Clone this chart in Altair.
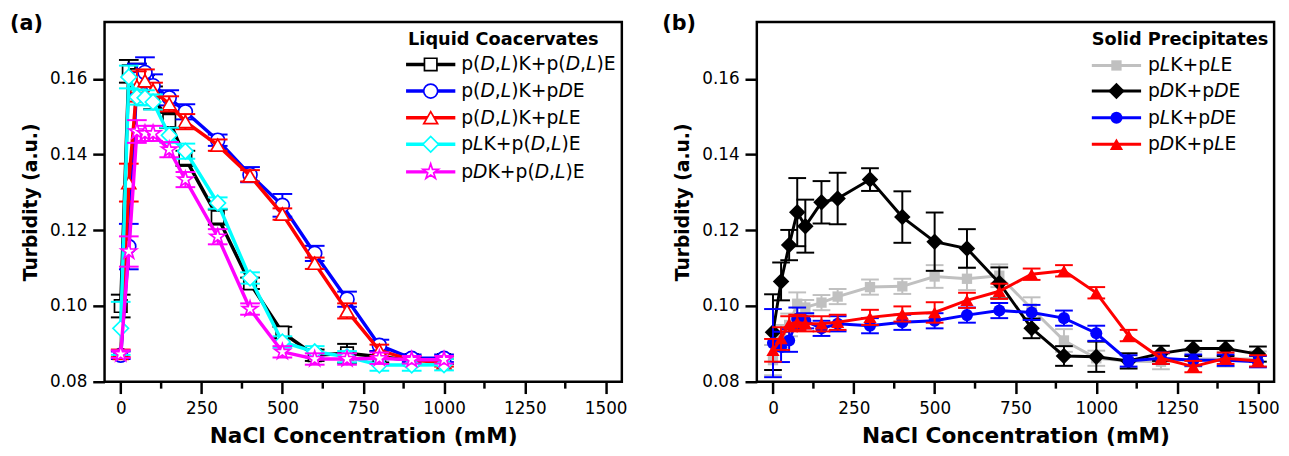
import altair as alt
import pandas as pd

FONT = "DejaVu Sans"

# ---------------- data ----------------
# (a) Liquid coacervates
x_liq = [0, 25, 50, 75, 100, 150, 200, 300, 400, 500, 600, 700, 800, 900, 1000]
liq_dl_dl = [0.100, 0.162, 0.161, 0.158, 0.155, 0.149, 0.139, 0.1235, 0.106, 0.093, 0.087, 0.0875, 0.0866, 0.0857, 0.0857]
liq_dl_dl_err = [0.003, 0.003, 0.003, 0.003, 0.003, 0.002, 0.002, 0.002, 0.0015, 0.0015, 0.0015, 0.0025, 0.0015, 0.001, 0.001]
liq_dl_d = [0.087, 0.1157, 0.160, 0.1617, 0.1582, 0.155, 0.1513, 0.1438, 0.1347, 0.1266, 0.1139, 0.1018, 0.0896, 0.0862, 0.0862]
liq_dl_d_err = [0.001, 0.006, 0.004, 0.004, 0.003, 0.002, 0.002, 0.0015, 0.002, 0.003, 0.002, 0.002, 0.0015, 0.001, 0.001]
liq_dl_l = [0.0875, 0.1326, 0.158, 0.1595, 0.157, 0.1534, 0.1487, 0.1425, 0.1344, 0.1243, 0.1113, 0.0987, 0.0883, 0.0857, 0.085]
liq_dl_l_err = [0.001, 0.005, 0.004, 0.003, 0.002, 0.002, 0.002, 0.0015, 0.0015, 0.0015, 0.0015, 0.002, 0.0015, 0.001, 0.001]
liq_l_dl = [0.0941, 0.1605, 0.1552, 0.155, 0.1539, 0.1451, 0.1409, 0.1272, 0.1074, 0.0905, 0.0879, 0.0866, 0.0844, 0.0844, 0.0845]
liq_l_dl_err = [0.007, 0.003, 0.002, 0.002, 0.002, 0.002, 0.002, 0.0015, 0.0015, 0.0015, 0.0015, 0.0015, 0.0015, 0.0015, 0.0015]
liq_d_dl = [0.0873, 0.1144, 0.1461, 0.1456, 0.1456, 0.1413, 0.1334, 0.1183, 0.0992, 0.0879, 0.086, 0.086, 0.0862, 0.0858, 0.0858]
liq_d_dl_err = [0.001, 0.004, 0.003, 0.002, 0.002, 0.002, 0.002, 0.002, 0.0015, 0.0015, 0.0015, 0.0015, 0.0015, 0.001, 0.001]

# (b) Solid precipitates
x_sol = [0, 25, 50, 75, 100, 150, 200, 300, 400, 500, 600, 700, 800, 900, 1000, 1100, 1200, 1300, 1400, 1500]
sol_l_l = [0.0857, 0.092, 0.095, 0.1006, 0.0996, 0.1009, 0.1025, 0.105, 0.1052, 0.1078, 0.1072, 0.108, 0.0993, 0.0909, 0.0862, 0.0855, 0.0853, 0.086, 0.086, 0.086]
sol_l_l_err = [0.004, 0.003, 0.003, 0.003, 0.002, 0.002, 0.002, 0.002, 0.002, 0.003, 0.003, 0.003, 0.003, 0.003, 0.002, 0.002, 0.002, 0.002, 0.002, 0.002]
sol_d_d = [0.0931, 0.1065, 0.1161, 0.1248, 0.1211, 0.1274, 0.1284, 0.1334, 0.1235, 0.117, 0.1152, 0.1061, 0.0941, 0.0868, 0.0866, 0.0855, 0.0875, 0.0888, 0.0888, 0.0873]
sol_d_d_err = [0.010, 0.005, 0.004, 0.009, 0.007, 0.0056, 0.0068, 0.003, 0.0068, 0.0077, 0.0051, 0.0041, 0.0026, 0.0026, 0.004, 0.002, 0.002, 0.002, 0.002, 0.002]
sol_l_d = [0.0902, 0.0892, 0.0909, 0.0966, 0.0961, 0.0941, 0.0953, 0.0948, 0.0957, 0.0961, 0.0976, 0.0988, 0.0983, 0.0968, 0.0928, 0.0855, 0.0862, 0.0857, 0.0857, 0.0853]
sol_l_d_err = [0.009, 0.004, 0.003, 0.003, 0.002, 0.002, 0.002, 0.002, 0.002, 0.002, 0.002, 0.002, 0.002, 0.002, 0.002, 0.0015, 0.0015, 0.0015, 0.0015, 0.0015]
sol_d_l = [0.0883, 0.0914, 0.0953, 0.0957, 0.0953, 0.0953, 0.0957, 0.097, 0.0979, 0.0983, 0.1015, 0.1039, 0.1084, 0.1093, 0.1035, 0.0922, 0.0862, 0.084, 0.0862, 0.0855]
sol_d_l_err = [0.003, 0.003, 0.002, 0.002, 0.002, 0.002, 0.002, 0.002, 0.002, 0.0027, 0.002, 0.002, 0.0015, 0.0015, 0.0015, 0.0015, 0.0015, 0.0015, 0.0015, 0.0015]

x_ticks = [0, 250, 500, 750, 1000, 1250, 1500]
x_minor = [125, 375, 625, 875, 1125, 1375]
y_ticks = [0.08, 0.10, 0.12, 0.14, 0.16]

liq_labels = ["p(<i>D</i>,<i>L</i>)K+p(<i>D</i>,<i>L</i>)E", "p(<i>D</i>,<i>L</i>)K+p<i>D</i>E",
              "p(<i>D</i>,<i>L</i>)K+p<i>L</i>E", "p<i>L</i>K+p(<i>D</i>,<i>L</i>)E",
              "p<i>D</i>K+p(<i>D</i>,<i>L</i>)E"]
sol_labels = ["p<i>L</i>K+p<i>L</i>E", "p<i>D</i>K+p<i>D</i>E", "p<i>L</i>K+p<i>D</i>E", "p<i>D</i>K+p<i>L</i>E"]

# ---------------- layout / style ----------------
W, H = 525, 365
XDOM = [-50, 1550]
YDOM = [0.08, 0.175]
STAR = ("M0,-1L0.2245,-0.309L0.9511,-0.309L0.3633,0.118L0.5878,0.809L0,0.382"
        "L-0.5878,0.809L-0.3633,0.118L-0.9511,-0.309L-0.2245,-0.309Z")
LEG_FS = 19
ADV = {'p': 0.635, '(': 0.390, ')': 0.390, 'D': 0.770, 'L': 0.557, 'K': 0.656,
       'E': 0.632, '+': 0.838, ',': 0.318}

xscale = alt.Scale(domain=XDOM, nice=False, zero=False)
yscale = alt.Scale(domain=YDOM, nice=False, zero=False)
xaxis = alt.Axis(values=x_ticks, format="d", title="NaCl Concentration (mM)", labelFlush=False, labelOverlap=False)
yaxis = alt.Axis(values=y_ticks, format=".2f", title="Turbidity (a.u.)", labelFlush=False, labelOverlap=False)


def X(f):
    return alt.X(f"{f}:Q", scale=xscale, axis=xaxis)


def Y(f):
    return alt.Y(f"{f}:Q", scale=yscale, axis=yaxis)


def px2x(px):
    return XDOM[0] + px / W * (XDOM[1] - XDOM[0])


def py2y(py):
    return YDOM[1] - py / H * (YDOM[1] - YDOM[0])


def series(xs, ys, es, color, shape, size, hollow, lw, cap):
    df = pd.DataFrame({"x": xs, "y": ys,
                       "lo": [a - b for a, b in zip(ys, es)],
                       "hi": [a + b for a, b in zip(ys, es)]})
    b = alt.Chart(df)
    out = [
        b.mark_rule(color=color, strokeWidth=2).encode(x=X("x"), y=Y("lo"), y2="hi"),
        b.mark_tick(orient="horizontal", size=cap, thickness=2, color=color, opacity=1).encode(x=X("x"), y=Y("lo")),
        b.mark_tick(orient="horizontal", size=cap, thickness=2, color=color, opacity=1).encode(x=X("x"), y=Y("hi")),
        b.mark_line(color=color, strokeWidth=lw).encode(x=X("x"), y=Y("y")),
    ]
    if hollow:
        out.append(b.mark_point(shape=shape, size=size, filled=True, fill="white", stroke=color,
                                strokeWidth=1.7, opacity=1).encode(x=X("x"), y=Y("y")))
    else:
        out.append(b.mark_point(shape=shape, size=size, filled=True, color=color,
                                opacity=1, strokeWidth=0).encode(x=X("x"), y=Y("y")))
    return out


def parse(markup):
    segs = []
    s = markup
    while s:
        if s.startswith("<i>"):
            e = s.index("</i>")
            segs.append((s[3:e], True))
            s = s[e + 4:]
        else:
            e = s.find("<i>")
            e = len(s) if e < 0 else e
            segs.append((s[:e], False))
            s = s[e:]
    return segs


def legend(title, labels, styles, line_x, text_x, title_x, title_y, rows_y, hollow, lw):
    layers = []
    tdf = pd.DataFrame({"x": [px2x(title_x)], "y": [py2y(title_y)], "t": [title]})
    layers.append(alt.Chart(tdf).mark_text(align="left", baseline="middle", font=FONT, fontSize=18,
                                           fontWeight="bold", color="black")
                  .encode(x=X("x"), y=Y("y"), text="t:N"))
    rows = []
    for lab, ry in zip(labels, rows_y):
        off = 0.0
        for txt, it in parse(lab):
            rows.append({"x": px2x(text_x + off), "y": py2y(ry), "t": txt, "it": it})
            off += sum(ADV.get(c, 0.6) for c in txt) * LEG_FS
    sdf = pd.DataFrame(rows)
    for it in (False, True):
        layers.append(alt.Chart(sdf[sdf["it"] == it]).mark_text(
            align="left", baseline="middle", font=FONT, fontSize=LEG_FS,
            fontStyle="italic" if it else "normal", color="black")
            .encode(x=X("x"), y=Y("y"), text="t:N"))
    for (color, shape, size), ry in zip(styles, rows_y):
        d = pd.DataFrame({"x": [px2x(line_x)], "x2": [px2x(line_x + 50)],
                          "xm": [px2x(line_x + 25)], "y": [py2y(ry)]})
        b = alt.Chart(d)
        layers.append(b.mark_rule(color=color, strokeWidth=lw).encode(x=X("x"), x2="x2", y=Y("y")))
        if hollow:
            layers.append(b.mark_point(shape=shape, size=size, filled=True, fill="white", stroke=color,
                                       strokeWidth=1.7, opacity=1).encode(x=X("xm"), y=Y("y")))
        else:
            layers.append(b.mark_point(shape=shape, size=size, filled=True, color=color, opacity=1,
                                       strokeWidth=0).encode(x=X("xm"), y=Y("y")))
    return layers


def frame_extras(letter):
    minor = alt.Chart(pd.DataFrame({"m": x_minor})).mark_rule(color="black", strokeWidth=2.5).encode(
        x=X("m"), y=alt.value(H), y2=alt.value(H + 7))
    lab = alt.Chart(pd.DataFrame({"t": [letter]})).mark_text(
        align="left", baseline="top", font=FONT, fontSize=21, fontWeight="bold", color="black").encode(
        x=alt.value(-96), y=alt.value(-9), text="t:N")
    return [minor, lab]


# ---------------- panel (a) ----------------
liq_styles = [("#000000", "square", 160), ("#0000FF", "circle", 200), ("#FF0000", "triangle-up", 200),
              ("#00FFFF", "diamond", 250), ("#FF00FF", STAR, 270)]
liq_data = [(liq_dl_dl, liq_dl_dl_err), (liq_dl_d, liq_dl_d_err), (liq_dl_l, liq_dl_l_err),
            (liq_l_dl, liq_l_dl_err), (liq_d_dl, liq_d_dl_err)]
layers_a = []
for (ys, es), (c, sh, sz) in zip(liq_data, liq_styles):
    layers_a += series(x_liq, ys, es, c, sh, sz, True, 3.5, 20)
layers_a += legend("Liquid Coacervates", liq_labels, liq_styles, 306, 362, 308, 18,
                   [43, 70, 97, 124, 152], True, 3.5)
layers_a += frame_extras("(a)")
panel_a = alt.layer(*layers_a).properties(width=W, height=H)

# ---------------- panel (b) ----------------
sol_styles = [("#C0C0C0", "square", 110), ("#000000", "diamond", 280), ("#0000FF", "circle", 150),
              ("#FF0000", "triangle-up", 180)]
sol_data = [(sol_l_l, sol_l_l_err), (sol_d_d, sol_d_d_err), (sol_l_d, sol_l_d_err), (sol_d_l, sol_d_l_err)]
layers_b = []
for (ys, es), (c, sh, sz) in zip(sol_data, sol_styles):
    layers_b += series(x_sol, ys, es, c, sh, sz, False, 3, 18)
layers_b += legend("Solid Precipitates", sol_labels, sol_styles, 340, 397, 340, 18,
                   [44, 70, 97, 124], False, 3)
layers_b += frame_extras("(b)")
panel_b = alt.layer(*layers_b).properties(width=W, height=H)

chart = (alt.hconcat(panel_a, panel_b, spacing=32)
         .properties(padding={"left": 0, "top": 0, "right": 0, "bottom": 0})
         .configure_view(stroke="black", strokeWidth=2.5)
         .configure_axis(domain=False, grid=False, tickColor="black", tickWidth=2.5, tickSize=12,
                         labelFont=FONT, labelFontSize=17, labelColor="black", labelPadding=7,
                         titleFont=FONT, titleFontWeight="bold", titleColor="black")
         .configure_axisX(titleFontSize=22, titlePadding=10)
         .configure_axisY(titleFontSize=19, titlePadding=9, labelPadding=6))

chart.save("out.html", embed_options={"renderer": "svg", "actions": False})
